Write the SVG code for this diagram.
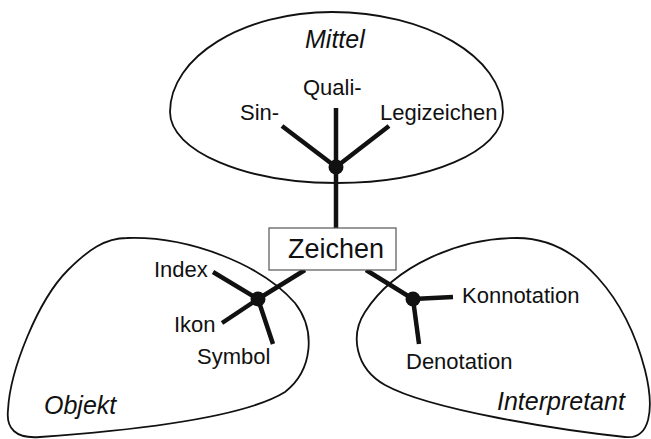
<svg xmlns="http://www.w3.org/2000/svg" width="651" height="439" viewBox="0 0 651 439">
  <style>
    .area { fill: none; stroke: #111; stroke-width: 1.8; }
    .branch { stroke: #111; stroke-width: 4.5; stroke-linecap: butt; fill: none; }
    .hub { fill: #111; }
    .lbl { font-family: "Liberation Sans", Arial, sans-serif; font-size: 22px; fill: #111; }
    .title { font-family: "Liberation Sans", Arial, sans-serif; font-size: 25px; font-style: italic; fill: #111; }
    .sign { font-family: "Liberation Sans", Arial, sans-serif; font-size: 27px; fill: #111; }
  </style>
  <rect width="651" height="439" fill="#fff"/>

  <!-- domain outlines -->
  <g id="mittel-area">
    <path class="area" d="M 170,112 C 170,57 243,12 332,12 C 426,12 503,57 503,112 C 503,151 429,183 337,183 C 245,183 170,151 170,112 Z"/>
    <text class="title" x="305" y="48">Mittel</text>
  </g>
  <g id="objekt-area">
    <path class="area" d="M 127,238 C 190,236 262,265 295,303 C 316,330 313,370 285,392 C 240,420 110,432 40,437 C 15,439 6,428 8,410 C 10,370 38,300 68,270 C 88,250 105,238 127,238 Z"/>
    <text class="title" x="44" y="414">Objekt</text>
  </g>
  <g id="interpretant-area">
    <path class="area" d="M 517,238 C 580,238 627,300 645,370 C 655,410 650,440 625,437 C 560,430 430,410 385,385 C 355,368 350,335 365,312 C 395,265 460,238 517,238 Z"/>
    <text class="title" x="497" y="410">Interpretant</text>
  </g>

  <!-- connectors -->
  <g id="connectors">
    <line class="branch" x1="336" y1="167" x2="336" y2="228"/>
    <line class="branch" x1="258" y1="299" x2="305" y2="270"/>
    <line class="branch" x1="413" y1="299" x2="366" y2="270"/>
    <line class="branch" x1="282" y1="126" x2="336" y2="167"/>
    <line class="branch" x1="336" y1="108" x2="336" y2="167"/>
    <line class="branch" x1="389" y1="126" x2="336" y2="167"/>
    <line class="branch" x1="213" y1="272" x2="258" y2="299"/>
    <line class="branch" x1="222" y1="323" x2="258" y2="299"/>
    <line class="branch" x1="273" y1="344" x2="258" y2="299"/>
    <line class="branch" x1="453" y1="297" x2="413" y2="299"/>
    <line class="branch" x1="419" y1="344" x2="413" y2="299"/>
  </g>

  <!-- central sign -->
  <g id="zeichen">
    <rect x="269" y="228" width="127" height="42" fill="#fff" stroke="#555" stroke-width="1.2"/>
    <text class="sign" x="288" y="258">Zeichen</text>
  </g>

  <!-- Mittel branches -->
  <g id="mittel">
    <circle class="hub" cx="336" cy="167" r="7.5"/>
    <text class="lbl" x="240" y="120">Sin-</text>
    <text class="lbl" x="303" y="95">Quali-</text>
    <text class="lbl" x="380" y="120">Legizeichen</text>
  </g>

  <!-- Objekt branches -->
  <g id="objekt">
    <circle class="hub" cx="258" cy="299" r="7.5"/>
    <text class="lbl" x="154" y="277">Index</text>
    <text class="lbl" x="174" y="332">Ikon</text>
    <text class="lbl" x="197" y="364">Symbol</text>
  </g>

  <!-- Interpretant branches -->
  <g id="interpretant">
    <circle class="hub" cx="413" cy="299" r="7.5"/>
    <text class="lbl" x="462" y="303">Konnotation</text>
    <text class="lbl" x="406" y="369">Denotation</text>
  </g>
</svg>
